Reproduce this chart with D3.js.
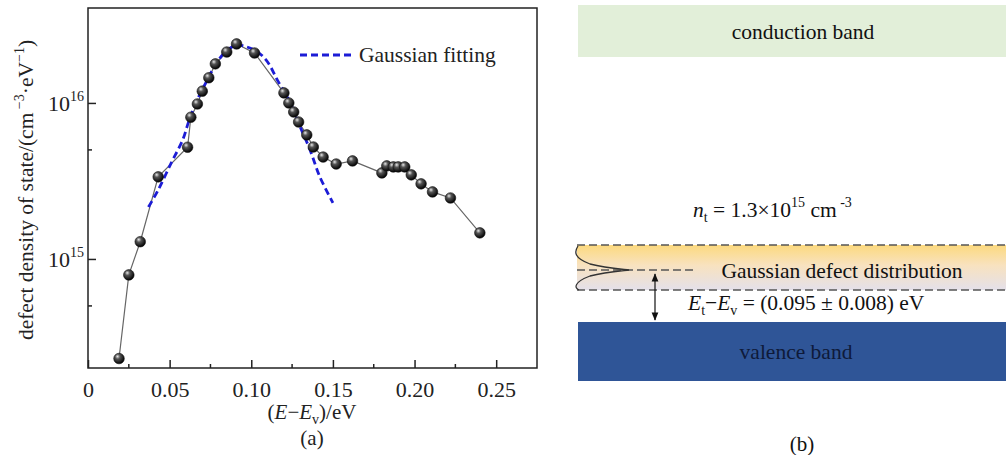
<!DOCTYPE html>
<html>
<head>
<meta charset="utf-8">
<script src="https://cdn.jsdelivr.net/npm/d3@7"></script>
<style>
  body { margin: 0; background: #fff; }
  svg { display: block; font-family: "Liberation Serif", "Times New Roman", serif; }
</style>
</head>
<body>
<div id="chart"></div>
<script>
const width = 1006, height = 455;

// measured points: energy (eV) and defect density (cm^-3 eV^-1)
const energy = [0.019, 0.025, 0.032, 0.043, 0.061, 0.063, 0.067, 0.070, 0.074, 0.078,
    0.085, 0.091, 0.102, 0.120, 0.123, 0.126, 0.129, 0.134, 0.138, 0.144,
    0.152, 0.162, 0.180, 0.183, 0.187, 0.190, 0.194, 0.198, 0.204, 0.211,
    0.222, 0.240];
const density = [2.3e14, 7.9e14, 1.29e15, 3.36e15, 5.2e15, 8.1e15, 9.85e15, 1.19e16, 1.45e16, 1.78e16,
    2.12e16, 2.39e16, 2.09e16, 1.16e16, 1.0e16, 8.75e15, 7.55e15, 6.24e15, 5.22e15, 4.5e15,
    4.06e15, 4.25e15, 3.56e15, 3.95e15, 3.89e15, 3.89e15, 3.89e15, 3.46e15, 3.03e15, 2.69e15,
    2.46e15, 1.47e15];

// gaussian fit curve
const fitEnergy = [0.037, 0.043, 0.051, 0.058, 0.062, 0.067, 0.073, 0.078, 0.084, 0.091,
    0.097, 0.104, 0.110, 0.116, 0.124, 0.130, 0.136, 0.142, 0.150];
const fitDensity = [2.15e15, 2.77e15, 4.13e15, 5.8e15, 7.78e15, 1.05e16, 1.4e16, 1.75e16, 2.12e16, 2.35e16,
    2.29e16, 2.12e16, 1.83e16, 1.4e16, 1.0e16, 7.0e15, 5.0e15, 3.36e15, 2.29e15];

const xTicks = [0, 0.05, 0.10, 0.15, 0.20, 0.25];
const xTickLabels = ["0", "0.05", "0.10", "0.15", "0.20", "0.25"];
const xMinor = [0.025, 0.075, 0.125, 0.175, 0.225];
const yTicks = [1e15, 1e16];
const yTickExp = ["15", "16"];
const yMinor = [5e14, 5e15];

const svg = d3.select("#chart")
    .append("svg")
    .attr("width", width)
    .attr("height", height);

// ---------- panel (a) ----------
const plot = { left: 88, top: 8, right: 537, bottom: 368 };

const x = d3.scaleLinear().domain([0, 0.275]).range([plot.left, plot.right]);
const y = d3.scaleLog().domain([2e14, 4.06e16]).range([plot.bottom, plot.top]);

const defs = svg.append("defs");
const ball = defs.append("radialGradient")
    .attr("id", "ball")
    .attr("cx", "40%").attr("cy", "35%").attr("r", "65%")
    .attr("fx", "35%").attr("fy", "30%");
ball.append("stop").attr("offset", "0%").attr("stop-color", "#e8e8e8");
ball.append("stop").attr("offset", "35%").attr("stop-color", "#555");
ball.append("stop").attr("offset", "100%").attr("stop-color", "#000");

// frame
svg.append("rect")
    .attr("x", plot.left).attr("y", plot.top)
    .attr("width", plot.right - plot.left).attr("height", plot.bottom - plot.top)
    .attr("fill", "none").attr("stroke", "#222").attr("stroke-width", 1.5);

// x axis, ticks pointing inward
const xAxis = svg.append("g")
    .attr("transform", `translate(0,${plot.bottom})`)
    .call(d3.axisBottom(x).tickValues(xTicks).tickSize(-8).tickFormat((d, i) => xTickLabels[i]));
xAxis.select(".domain").remove();
xAxis.selectAll("text")
    .attr("y", 13).attr("dy", "0.71em")
    .attr("font-size", 22).attr("font-family", "Liberation Serif").attr("fill", "#222");
xAxis.selectAll("line").attr("stroke", "#222").attr("stroke-width", 1.5);

svg.append("g")
    .selectAll("line")
    .data(xMinor)
    .join("line")
    .attr("x1", d => x(d)).attr("x2", d => x(d))
    .attr("y1", plot.bottom).attr("y2", plot.bottom - 4)
    .attr("stroke", "#222").attr("stroke-width", 1.5);

// y axis, ticks pointing inward
const yAxis = svg.append("g")
    .attr("transform", `translate(${plot.left},0)`)
    .call(d3.axisLeft(y).tickValues(yTicks).tickSize(-8).tickFormat(""));
yAxis.select(".domain").remove();
yAxis.selectAll("line").attr("stroke", "#222").attr("stroke-width", 1.5);

const yLab = svg.append("g")
    .selectAll("text")
    .data(yTicks)
    .join("text")
    .attr("x", plot.left - 4)
    .attr("y", d => y(d) + 8)
    .attr("text-anchor", "end")
    .attr("font-size", 22)
    .attr("fill", "#222");
yLab.append("tspan").text("10");
yLab.append("tspan")
    .attr("font-size", 14)
    .attr("dy", -10)
    .text((d, i) => yTickExp[i]);

svg.append("g")
    .selectAll("line")
    .data(yMinor)
    .join("line")
    .attr("x1", plot.left).attr("x2", plot.left + 4)
    .attr("y1", d => y(d)).attr("y2", d => y(d))
    .attr("stroke", "#222").attr("stroke-width", 1.5);

// axis titles
const yTitle = svg.append("text")
    .attr("transform", "translate(33,190) rotate(-90)")
    .attr("text-anchor", "middle")
    .attr("font-size", 21.5)
    .attr("fill", "#222");
yTitle.append("tspan").text("defect density of state/(cm");
yTitle.append("tspan").attr("font-size", 14).attr("dy", -9).text(" −3");
yTitle.append("tspan").attr("dy", 9).text("·eV");
yTitle.append("tspan").attr("font-size", 14).attr("dy", -9).text("−1");
yTitle.append("tspan").attr("dy", 9).text(")");

const xTitle = svg.append("text")
    .attr("x", 312).attr("y", 419)
    .attr("text-anchor", "middle")
    .attr("font-size", 21)
    .attr("fill", "#222");
xTitle.append("tspan").text("(");
xTitle.append("tspan").attr("font-style", "italic").text("E");
xTitle.append("tspan").text("−");
xTitle.append("tspan").attr("font-style", "italic").text("E");
xTitle.append("tspan").attr("font-size", 14).attr("dy", 5).text("v");
xTitle.append("tspan").attr("dy", -5).text(")/eV");

svg.append("text")
    .attr("x", 312).attr("y", 445)
    .attr("text-anchor", "middle")
    .attr("font-size", 21)
    .attr("fill", "#222")
    .text("(a)");

// measured line + balls
const pts = energy.map((e, i) => [e, density[i]]);
svg.append("path")
    .datum(pts)
    .attr("fill", "none")
    .attr("stroke", "#666")
    .attr("stroke-width", 1.2)
    .attr("d", d3.line().x(d => x(d[0])).y(d => y(d[1])));

// gaussian fit
const fit = fitEnergy.map((e, i) => [e, fitDensity[i]]);
svg.append("path")
    .datum(fit)
    .attr("fill", "none")
    .attr("stroke", "#1c1cd6")
    .attr("stroke-width", 2.8)
    .attr("stroke-dasharray", "7,4")
    .attr("d", d3.line().curve(d3.curveCatmullRom).x(d => x(d[0])).y(d => y(d[1])));

svg.append("g")
    .selectAll("circle")
    .data(pts)
    .join("circle")
    .attr("cx", d => x(d[0]))
    .attr("cy", d => y(d[1]))
    .attr("r", 5.3)
    .attr("fill", "url(#ball)")
    .attr("stroke", "#111")
    .attr("stroke-width", 0.6);

// legend
svg.append("line")
    .attr("x1", 300).attr("x2", 352).attr("y1", 55).attr("y2", 55)
    .attr("stroke", "#1c1cd6").attr("stroke-width", 2.8).attr("stroke-dasharray", "7,4");
svg.append("text")
    .attr("x", 359).attr("y", 62)
    .attr("font-size", 21.5)
    .attr("fill", "#222")
    .text("Gaussian fitting");

// ---------- panel (b) ----------
const bx0 = 578, bx1 = 1006, bandMid = 800;

svg.append("rect")
    .attr("x", bx0).attr("y", 5).attr("width", bx1 - bx0).attr("height", 52)
    .attr("fill", "#e2efd9");
svg.append("text")
    .attr("x", 803).attr("y", 39)
    .attr("text-anchor", "middle").attr("font-size", 21.5).attr("fill", "#111")
    .text("conduction band");

const nt = svg.append("text")
    .attr("x", 693).attr("y", 217)
    .attr("font-size", 21.5).attr("fill", "#111");
nt.append("tspan").attr("font-style", "italic").text("n");
nt.append("tspan").attr("font-size", 14).attr("dy", 5).text("t");
nt.append("tspan").attr("dy", -5).text(" = 1.3×10");
nt.append("tspan").attr("font-size", 14).attr("dy", -10).text("15");
nt.append("tspan").attr("dy", 10).text(" cm");
nt.append("tspan").attr("font-size", 14).attr("dy", -10).text(" -3");

const grad = defs.append("linearGradient")
    .attr("id", "defectGrad")
    .attr("x1", 0).attr("y1", 0).attr("x2", 0).attr("y2", 1);
grad.append("stop").attr("offset", "0%").attr("stop-color", "#fcd97e");
grad.append("stop").attr("offset", "45%").attr("stop-color", "#f8e2bf");
grad.append("stop").attr("offset", "100%").attr("stop-color", "#e4e0ea");

svg.append("rect")
    .attr("x", bx0 - 1).attr("y", 245).attr("width", bx1 - bx0 + 1).attr("height", 45)
    .attr("fill", "url(#defectGrad)");

svg.append("g")
    .selectAll("line")
    .data([245, 290])
    .join("line")
    .attr("x1", bx0 - 1).attr("x2", bx1)
    .attr("y1", d => d).attr("y2", d => d)
    .attr("stroke", "#555").attr("stroke-width", 1.3).attr("stroke-dasharray", "8,4");
svg.append("line")
    .attr("x1", 577).attr("x2", 695).attr("y1", 270).attr("y2", 270)
    .attr("stroke", "#555").attr("stroke-width", 1.3).attr("stroke-dasharray", "8,4");

// sideways gaussian
svg.append("path")
    .attr("d", "M578,246 C574,252 574,258 590,264 C605,268 620,269 629,270 C620,271 605,272 590,276 C574,282 574,288 579,290")
    .attr("fill", "none").attr("stroke", "#333").attr("stroke-width", 1.3);

svg.append("text")
    .attr("x", 842).attr("y", 278)
    .attr("text-anchor", "middle").attr("font-size", 21.5).attr("fill", "#111")
    .text("Gaussian defect distribution");

// double arrow
defs.append("marker")
    .attr("id", "head")
    .attr("viewBox", "0 0 10 10").attr("refX", 9).attr("refY", 5)
    .attr("markerWidth", 7).attr("markerHeight", 7)
    .attr("orient", "auto-start-reverse")
    .append("path").attr("d", "M0,1 L10,5 L0,9 Z").attr("fill", "#111");
svg.append("line")
    .attr("x1", 655).attr("x2", 655).attr("y1", 274).attr("y2", 320)
    .attr("stroke", "#111").attr("stroke-width", 1.2)
    .attr("marker-start", "url(#head)").attr("marker-end", "url(#head)");

const et = svg.append("text")
    .attr("x", 688).attr("y", 310)
    .attr("font-size", 21.5).attr("fill", "#111");
et.append("tspan").attr("font-style", "italic").text("E");
et.append("tspan").attr("font-size", 14).attr("dy", 5).text("t");
et.append("tspan").attr("dy", -5).text("−");
et.append("tspan").attr("font-style", "italic").text("E");
et.append("tspan").attr("font-size", 14).attr("dy", 5).text("v");
et.append("tspan").attr("dy", -5).text(" = (0.095 ± 0.008) eV");

svg.append("rect")
    .attr("x", bx0).attr("y", 322).attr("width", bx1 - bx0).attr("height", 59)
    .attr("fill", "#2f5597");
svg.append("text")
    .attr("x", 796).attr("y", 359)
    .attr("text-anchor", "middle").attr("font-size", 21.5).attr("fill", "#0e1a3a")
    .text("valence band");

svg.append("text")
    .attr("x", 802).attr("y", 451)
    .attr("text-anchor", "middle").attr("font-size", 21).attr("fill", "#111")
    .text("(b)");
</script>
</body>
</html>
